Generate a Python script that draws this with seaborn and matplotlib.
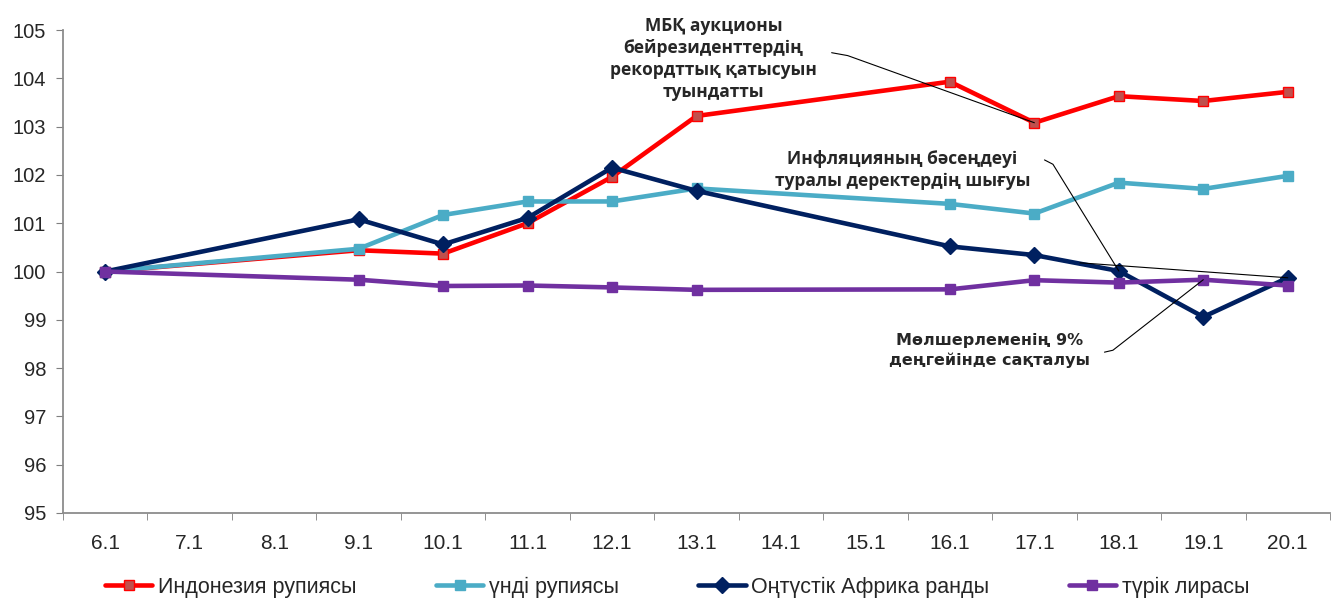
import numpy as np
import pandas as pd
import matplotlib
matplotlib.use("Agg")
import matplotlib.pyplot as plt
import seaborn as sns

# tick labels (every day of the axis) and the days that have observations
days = ['6.1', '7.1', '8.1', '9.1', '10.1', '11.1', '12.1', '13.1',
        '14.1', '15.1', '16.1', '17.1', '18.1', '19.1', '20.1']
obs_days = ['6.1', '9.1', '10.1', '11.1', '12.1', '13.1', '16.1', '17.1',
            '18.1', '19.1', '20.1']

# index values, 6.1 = 100
idr = [100.0, 100.44, 100.37, 101.0, 101.96, 103.22, 103.93, 103.08, 103.63, 103.53, 103.72]
inr = [100.0, 100.47, 101.17, 101.45, 101.45, 101.72, 101.40, 101.20, 101.84, 101.71, 101.98]
zar = [100.0, 101.08, 100.56, 101.11, 102.15, 101.67, 100.52, 100.34, 100.01, 99.06, 99.87]
tryl = [100.0, 99.83, 99.70, 99.71, 99.67, 99.62, 99.63, 99.82, 99.77, 99.83, 99.71]

names = ['Индонезия рупиясы', 'үнді рупиясы', 'Оңтүстік Африка ранды', 'түрік лирасы']

sns.set_style("white")
plt.rcParams['font.family'] = ['Liberation Sans', 'DejaVu Sans']

fig = plt.figure(figsize=(13.33, 5.98), dpi=100)
ax = fig.add_axes([63 / 1333, 85 / 598, 1267 / 1333, 483 / 598])

xpos = [days.index(d) for d in obs_days]

styles = [
    (idr, '#FF0000', 's', 7, '#C0504D', '#FF0000'),
    (inr, '#4BACC6', 's', 7.5, '#4BACC6', '#4BACC6'),
    (zar, '#002060', 'D', 8.5, '#002060', '#002060'),
    (tryl, '#7030A0', 's', 7.5, '#7030A0', '#7030A0'),
]
for (vals, col, mk, ms, fc, ec), nm in zip(styles, names):
    sns.lineplot(x=xpos, y=vals, ax=ax, color=col, lw=3.3, marker=mk,
                 markersize=ms, markerfacecolor=fc, markeredgecolor=ec,
                 markeredgewidth=1, label=nm, clip_on=False)

ax.set_xlim(-0.5, len(days) - 0.5)
ax.set_ylim(95, 105)
ax.set_yticks(range(95, 106))
ax.set_xticks(range(len(days)))
ax.set_xticklabels(days)
ax.set_xticks(np.arange(-0.5, len(days), 1), minor=True)
ax.tick_params(axis='x', which='major', length=0, pad=15, labelsize=15)
ax.tick_params(axis='x', which='minor', length=5, color='#7f7f7f', direction='out', bottom=True)
ax.tick_params(axis='y', length=5, color='#7f7f7f', direction='out', left=True, pad=7, labelsize=14.5)
for s in ['top', 'right']:
    ax.spines[s].set_visible(False)
for s in ['left', 'bottom']:
    ax.spines[s].set_color('#8c8c8c')
    ax.spines[s].set_linewidth(1.3)
ax.set_xlabel('')
ax.set_ylabel('')

# annotations
afont = dict(family=['Open Sans', 'DejaVu Sans'], weight='bold', fontsize=12.5, color='#262626')
ax.text(7.2, 104.4, 'МБҚ аукционы\nбейрезиденттердің\nрекордттық қатысуын\nтуындатты',
        ha='center', va='center', linespacing=1.27, clip_on=False, **afont)
ax.plot([8.6, 8.79, days.index('17.1')], [104.53, 104.47, idr[obs_days.index('17.1')]],
        color='black', lw=0.8, clip_on=False)

ax.text(9.44, 102.1, 'Инфляцияның бәсеңдеуі\nтуралы деректердің шығуы',
        ha='center', va='center', linespacing=1.3, **afont)
ax.plot([11.12, 11.22, days.index('18.1')], [102.31, 102.22, zar[obs_days.index('18.1')]],
        color='black', lw=0.8)
ax.plot([11.54, days.index('20.1')], [100.18, zar[obs_days.index('20.1')]],
        color='black', lw=0.8)

ax.text(10.47, 98.37, 'Мөлшерлеменің 9%\nдеңгейінде сақталуы',
        ha='center', va='center', linespacing=1.35,
        family=['DejaVu Sans'], weight='bold', fontsize=11.5, color='#262626')
ax.plot([11.83, 11.93, days.index('19.1')], [98.33, 98.37, tryl[obs_days.index('19.1')]],
        color='black', lw=0.8)

ax.legend(loc='center', bbox_to_anchor=(677 / 1333, 1 - 587 / 598),
          bbox_transform=fig.transFigure, ncol=4, frameon=False, fontsize=15.5,
          handlelength=2.2, handletextpad=0.25, columnspacing=3.7)

fig.savefig('out.png', dpi=100)
